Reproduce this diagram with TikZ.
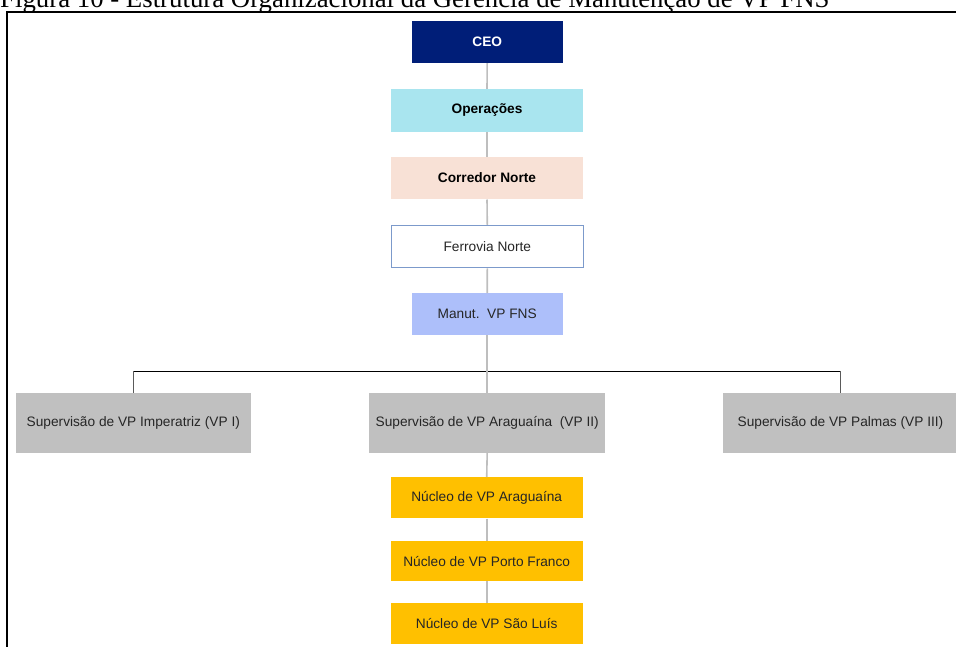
\documentclass[tikz,border=0pt]{standalone}
\usepackage{fontspec}
\setmainfont{Liberation Sans}
\newfontfamily\captionserif{Liberation Serif}
\definecolor{ceoblue}{RGB}{0,30,120}
\definecolor{opcyan}{RGB}{169,229,239}
\definecolor{corpeach}{RGB}{248,225,214}
\definecolor{ferroedge}{RGB}{124,154,203}
\definecolor{manutblue}{RGB}{173,191,250}
\definecolor{supgray}{RGB}{192,192,192}
\definecolor{nucleogold}{RGB}{255,192,0}
\definecolor{linkgray}{RGB}{190,190,190}
\definecolor{busdrop}{RGB}{90,90,90}
\definecolor{txtdark}{RGB}{38,38,38}
\tikzset{
  orgbox/.style={rectangle, inner sep=0pt, align=center, font=\fontsize{13.7}{16}\selectfont},
  orgbold/.style={orgbox, font=\fontsize{13.7}{16}\selectfont\bfseries},
  small/.style={orgbox, minimum width=151pt, minimum height=42pt},
  wide/.style={orgbox, minimum width=192.6pt, minimum height=42.6pt},
  supbox/.style={orgbox, fill=supgray, text=txtdark, minimum width=235.5pt, minimum height=59.4pt},
  nucbox/.style={orgbox, fill=nucleogold, text=txtdark, minimum width=192pt, minimum height=40.5pt},
  link/.style={draw=linkgray, line width=1.6pt},
  bus/.style={draw=black, line width=0.9pt},
  drop/.style={draw=busdrop, line width=0.9pt},
  frame/.style={draw=black, line width=1.9pt}
}
\begin{document}
\begin{tikzpicture}[x=1pt, y=-1pt]
\useasboundingbox (0,0) rectangle (956,646);
\clip (0,0) rectangle (956,646);

% caption above the frame, its upper part running past the page edge
\node[anchor=base west, inner sep=0pt, font=\captionserif\fontsize{26.8}{29}\selectfont] (caption) at (0,7.5)
  {Figura 10 - Estrutura Organizacional da Gerência de Manutenção de VP FNS};

% frame
\draw[frame] (960,12.3) -- (7.3,12.3) -- (7.3,650);

% chain of command
\node[small, orgbold, fill=ceoblue, text=white, minimum width=151pt, minimum height=42pt] (ceo) at (487.2,42) {CEO};
\node[wide, orgbold, fill=opcyan, text=black] (oper) at (487,110.4) {Operações};
\node[wide, orgbold, fill=corpeach, text=black] (corr) at (487,178) {Corredor Norte};
\node[wide, draw=ferroedge, line width=1.2pt, fill=white, text=txtdark, minimum width=192.3pt, minimum height=42.3pt] (ferro) at (487.3,246.7) {Ferrovia Norte};
\node[small, fill=manutblue, text=txtdark, minimum height=41.7pt] (manut) at (487.2,314.2) {Manut.\ \ VP FNS};

% supervision level
\node[supbox] (supI) at (133.3,423) {Supervisão de VP Imperatriz (VP I)};
\node[supbox] (supII) at (487.2,423) {Supervisão de VP Araguaína\ \ (VP II)};
\node[supbox] (supIII) at (840.5,423) {Supervisão de VP Palmas (VP III)};

% nucleus level
\node[nucbox, minimum height=41pt] (nucA) at (486.7,497.8) {Núcleo de VP Araguaína};
\node[nucbox, minimum height=39.7pt] (nucPF) at (486.7,561.2) {Núcleo de VP Porto Franco};
\node[nucbox, minimum height=40.7pt] (nucSL) at (486.7,623.7) {Núcleo de VP São Luís};

% horizontal bus to the supervisions
\coordinate (busmid) at (487.2,371);
\draw[bus] (supI.north |- busmid) -- (supIII.north |- busmid);
\draw[drop] (supI.north |- busmid) -- (supI.north);
\draw[drop] (supIII.north |- busmid) -- (supIII.north);

% vertical connectors
\draw[link] (ceo.south) -- (oper.north);
\draw[link] (oper.south) -- (corr.north);
\draw[link] (corr.south) -- (ferro.north);
\draw[link] (ferro.south) -- (manut.north);
\draw[link] (manut.south) -- (supII.north);
\draw[link] (supII.south) -- (nucA.north);
\draw[link] (nucA.south) -- (nucPF.north);
\draw[link] (nucPF.south) -- (nucSL.north);
\end{tikzpicture}
\end{document}
